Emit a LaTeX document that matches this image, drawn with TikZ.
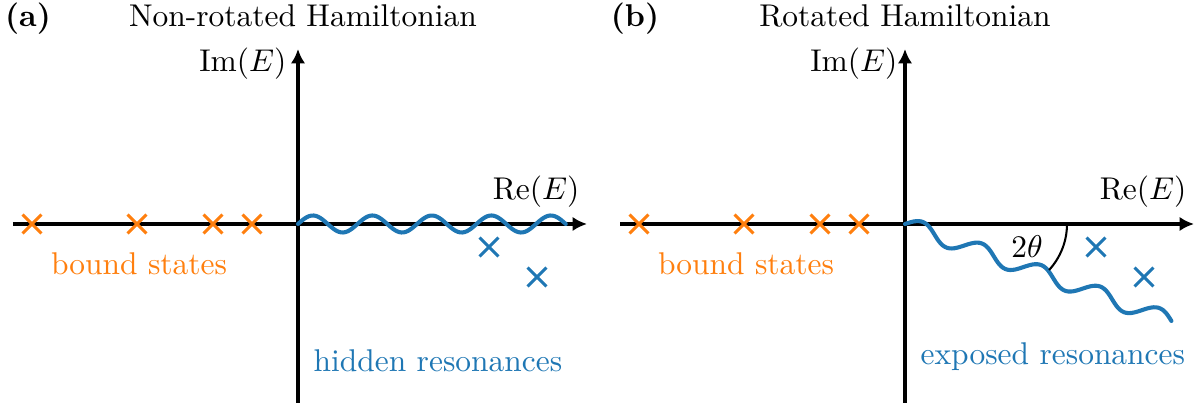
\documentclass[tikz,border=0pt]{standalone}
\usepackage{amsmath, amssymb}
\usepackage{xcolor}
\usetikzlibrary{arrows.meta, shapes.misc}
\definecolor{resblue}{HTML}{1F77B4}
\definecolor{bndorange}{HTML}{FF7F0E}

\begin{document}
\begin{tikzpicture}[x=0.318pt, y=0.318pt,
  axis/.style={line width=1pt, -{Latex[length=4.6pt, width=4.6pt]}},
  pole/.style={cross out, draw, line width=1pt, minimum size=5pt, inner sep=0pt},
  bnd/.style={pole, draw=bndorange},
  res/.style={pole, draw=resblue},
  wave/.style={resblue, line width=1.3pt, line cap=round}]
  \useasboundingbox (-298,-179) rectangle (901,224);
  % (a) non-rotated
  \begin{scope}
    \coordinate (a-o) at (0,0);
    \coordinate (a-l) at (-285,0); \coordinate (a-r) at (289,0);
    \coordinate (a-b) at (0,-179); \coordinate (a-t) at (0,175);
    \draw[axis] (a-l) -- (a-r);
    \draw[axis] (a-b) -- (a-t);
    \node[font=\bfseries, anchor=base] (a-tag) at (-270,197) {(a)};
    \node[anchor=base] (a-title) at (5,197) {Non-rotated Hamiltonian};
    \node[anchor=base east, inner sep=0pt] (a-im) at (-11,152) {$\mathrm{Im}(E)$};
    \node[anchor=base east, inner sep=0pt] (a-re) at (282,24) {$\mathrm{Re}(E)$};
    \foreach \e [count=\i] in {-266,-161,-85,-46}
      \node[bnd] (a-bs\i) at (\e,0) {};
    \node[anchor=base, text=bndorange] (a-bnd) at (-159,-51) {bound states};
    \draw[wave] plot[domain=0:267.75, samples=120, smooth] (\x, {8.5*sin(\x/59.5*360)});
    \node[res] (a-r1) at (191,-23) {};
    \node[res] (a-r2) at (239,-53) {};
    \node[anchor=base west, inner sep=0pt, text=resblue] (a-res) at (15,-148) {hidden resonances};
  \end{scope}
  % (b) rotated
  \begin{scope}[xshift=607*0.318pt]
    \coordinate (b-o) at (0,0);
    \coordinate (b-l) at (-285,0); \coordinate (b-r) at (289,0);
    \coordinate (b-b) at (0,-179); \coordinate (b-t) at (0,175);
    \draw[axis] (b-l) -- (b-r);
    \draw[axis] (b-b) -- (b-t);
    \node[font=\bfseries, anchor=base] (b-tag) at (-270,197) {(b)};
    \node[anchor=base] (b-title) at (0,197) {Rotated Hamiltonian};
    \node[anchor=base east, inner sep=0pt] (b-im) at (-7,152) {$\mathrm{Im}(E)$};
    \node[anchor=base east, inner sep=0pt] (b-re) at (282,24) {$\mathrm{Re}(E)$};
    \foreach \e [count=\i] in {-266,-161,-85,-46}
      \node[bnd] (b-bs\i) at (\e,0) {};
    \node[anchor=base, text=bndorange] (b-bnd) at (-159,-51) {bound states};
    \draw[wave, rotate=-20] plot[domain=0:283.5, samples=120, smooth] (\x, {8*sin(\x/63*360)});
    \draw[line width=0.65pt] (162,0) arc[start angle=0, end angle=-42.6, radius=68];
    \node (b-ang) at (122,-23) {$2\theta$};
    \node[res] (b-r1) at (191,-23) {};
    \node[res] (b-r2) at (239,-53) {};
    \node[anchor=base west, inner sep=0pt, text=resblue] (b-res) at (15,-141) {exposed resonances};
  \end{scope}
\end{tikzpicture}
\end{document}
